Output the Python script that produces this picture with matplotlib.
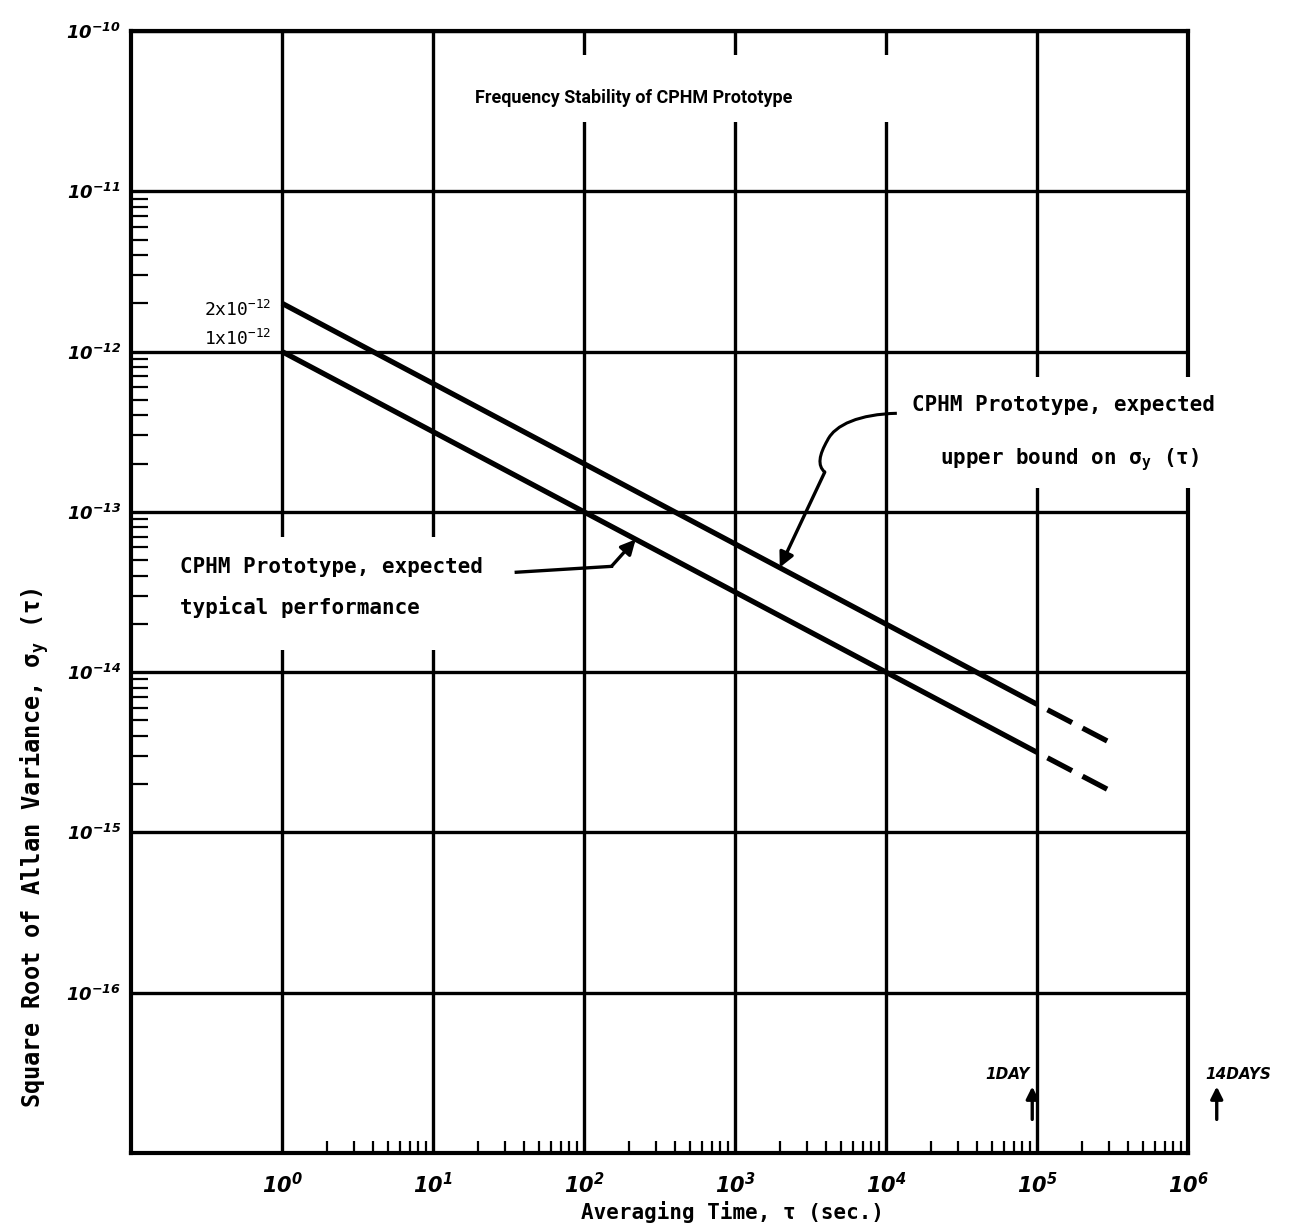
"""Frequency stability of CPHM prototype - re-drawn from the scanned chart."""
import matplotlib

matplotlib.use("Agg")
import matplotlib.pyplot as plt
from matplotlib import font_manager
from matplotlib.patches import Rectangle, PathPatch
from matplotlib.path import Path
from matplotlib.ticker import FixedLocator, NullFormatter

plt.rcParams["lines.scale_dashes"] = False

# ---- data ----
TAU_SOLID = [1.0, 1.0e5]
UPPER_SOLID = [2.0e-12, 6.3e-15]      # expected upper bound
LOWER_SOLID = [1.0e-12, 3.16e-15]     # expected typical performance
TAU_DASH = [1.0e5, 3.3e5]
UPPER_DASH = [6.3e-15, 3.5e-15]
LOWER_DASH = [3.16e-15, 1.75e-15]

XTICKS = [1e0, 1e1, 1e2, 1e3, 1e4, 1e5, 1e6]
XTICK_LABELS = [r"10$^{\mathregular{%d}}$" % e for e in range(0, 7)]
YTICKS = [1e-10, 1e-11, 1e-12, 1e-13, 1e-14, 1e-15, 1e-16]
YTICK_LABELS = [r"10$^{\mathregular{%d}}$" % e for e in range(-10, -17, -1)]
X_MINOR = [k * 10.0 ** e for e in range(0, 6) for k in range(2, 10)]
Y_MINOR = [k * 10.0 ** e for e in range(-15, -11) for k in range(2, 10)]

# annotation geometry (data coords)
LOW_ARROW_PATH = [(35.6, 4.2e-14), (152.0, 4.57e-14)]
LOW_ARROW_TIP = (220.0, 6.74e-14)
UP_CURVE = [(1.18e4, 4.12e-13), (6.7e3, 4.07e-13), (4.6e3, 3.5e-13), (4.1e3, 2.8e-13),
            (3.6e3, 2.26e-13), (3.5e3, 1.95e-13), (3.93e3, 1.77e-13)]
UP_ARROW_TIP = (1.98e3, 4.5e-14)
# (arrow x, text x, text, alignment)
DAY_MARKS = [(9.3e4, 9.0e4, "1DAY", "right"), (1.55e6, 1.30e6, "14DAYS", "left")]

MONO = "DejaVu Sans Mono"


def has_font(name):
    try:
        font_manager.findfont(name, fallback_to_default=False)
        return True
    except ValueError:
        return False


# the original title is set in a narrow face; Roboto is the closest narrow-ish one here
if has_font("Roboto"):
    TITLE_FONT, TITLE_SIZE = "Roboto", 13
else:
    TITLE_FONT, TITLE_SIZE = MONO, 11

fig = plt.figure(figsize=(12.91, 12.31), dpi=100)
ax = fig.add_axes([131 / 1291, 1 - 1153 / 1231, (1188 - 131) / 1291, (1153 - 31) / 1231])
ax.set_xscale("log")
ax.set_yscale("log")
ax.set_xlim(1e-1, 1e6)
ax.set_ylim(1e-17, 1e-10)

# grid + spines
ax.set_xticks(XTICKS, XTICK_LABELS, fontsize=15, fontstyle="italic", fontweight="bold")
ax.set_yticks(YTICKS, YTICK_LABELS, fontsize=13, fontstyle="italic", fontweight="bold")
ax.xaxis.set_minor_locator(FixedLocator(X_MINOR))
ax.yaxis.set_minor_locator(FixedLocator(Y_MINOR))
ax.xaxis.set_minor_formatter(NullFormatter())
ax.yaxis.set_minor_formatter(NullFormatter())
ax.grid(which="major", color="black", lw=2.4)
ax.tick_params(which="major", length=0)
ax.tick_params(axis="x", which="major", pad=14)
ax.tick_params(axis="y", which="major", pad=7)
ax.tick_params(axis="x", which="minor", direction="in", length=9, width=1.6)
ax.tick_params(axis="y", which="minor", direction="in", length=12, width=1.6)
for sp in ax.spines.values():
    sp.set_linewidth(3.0)

# the two stability lines
for ys, yd in [(UPPER_SOLID, UPPER_DASH), (LOWER_SOLID, LOWER_DASH)]:
    ax.plot(TAU_SOLID, ys, color="black", lw=3.8, solid_capstyle="butt")
    ax.plot(TAU_DASH, yd, color="black", lw=3.8, linestyle=(20, (20, 8.5)),
            dash_capstyle="butt")

# white-outs where the original grid is interrupted by the lettering
for x0, y0, w, h in [(0.368, 0.919, 0.378, 0.060),
                     (0.732, 0.593, 0.300, 0.099),
                     (0.018, 0.448, 0.331, 0.101)]:
    ax.add_patch(Rectangle((x0, y0), w, h, transform=ax.transAxes, facecolor="white",
                           edgecolor="none", zorder=2.6, clip_on=False))

# texts
fig.text(475 / 1291, 1 - 98 / 1231, "Frequency Stability of CPHM Prototype",
         family=TITLE_FONT, fontweight="bold", fontsize=TITLE_SIZE, va="center", zorder=5)
fig.text(180 / 1291, 1 - 567 / 1231, "CPHM Prototype, expected", family=MONO,
         fontweight="bold", fontsize=15, va="center", zorder=5)
fig.text(180 / 1291, 1 - 607 / 1231, "typical performance", family=MONO,
         fontweight="bold", fontsize=15, va="center", zorder=5)
fig.text(912 / 1291, 1 - 405 / 1231, "CPHM Prototype, expected", family=MONO,
         fontweight="bold", fontsize=15, va="center", zorder=5)
fig.text(940 / 1291, 1 - 460 / 1231, r"upper bound on σ$_\mathregular{y}$ (τ)", family=MONO,
         fontweight="bold", fontsize=15, va="center", zorder=5)
ax.text(0.85, 1.82e-12, r"2x10$^{\mathregular{-12}}$", family=MONO, fontsize=13,
        ha="right", va="center", zorder=5)
ax.text(0.85, 1.2e-12, r"1x10$^{\mathregular{-12}}$", family=MONO, fontsize=13,
        ha="right", va="center", zorder=5)

ax.set_xlabel("Averaging Time, τ (sec.)", family=MONO, fontweight="bold", fontsize=15)
ax.xaxis.label.set_va("center")
ax.xaxis.set_label_coords(0.5695, -0.0526)
ax.set_ylabel(r"Square Root of Allan Variance, σ$_\mathregular{y}$ (τ)", family=MONO,
              fontweight="bold", fontsize=17)
ax.yaxis.label.set_va("center")
ax.yaxis.set_label_coords(-0.091, 0.272)

# lower annotation arrow
(tx0, ty0), (tx1, ty1) = LOW_ARROW_PATH
ax.plot([tx0, tx1], [ty0, ty1], color="black", lw=2.4, zorder=4)
ax.annotate("", xy=LOW_ARROW_TIP, xytext=(tx1, ty1),
            arrowprops=dict(arrowstyle="-|>", color="black", lw=2.4,
                            mutation_scale=22, shrinkA=0, shrinkB=0), zorder=4)

# upper annotation: curly leader then arrow
codes = [Path.MOVETO, Path.CURVE4, Path.CURVE4, Path.CURVE4,
         Path.CURVE4, Path.CURVE4, Path.CURVE4]
ax.add_patch(PathPatch(Path(UP_CURVE, codes), facecolor="none", edgecolor="black",
                       lw=2.2, zorder=4))
ax.annotate("", xy=UP_ARROW_TIP, xytext=UP_CURVE[-1],
            arrowprops=dict(arrowstyle="-|>", color="black", lw=2.4,
                            mutation_scale=22, shrinkA=0, shrinkB=0), zorder=4)

# day markers
for tau, tx, label, ha in DAY_MARKS:
    ax.annotate("", xy=(tau, 2.6e-17), xytext=(tau, 1.62e-17),
                arrowprops=dict(arrowstyle="-|>", color="black", lw=2.4,
                                mutation_scale=18, shrinkA=0, shrinkB=0),
                annotation_clip=False)
    ax.text(tx, 3.1e-17, label, fontsize=11, fontstyle="italic", fontweight="bold",
            ha=ha, va="center", clip_on=False)

fig.savefig("out.png", dpi=100)
